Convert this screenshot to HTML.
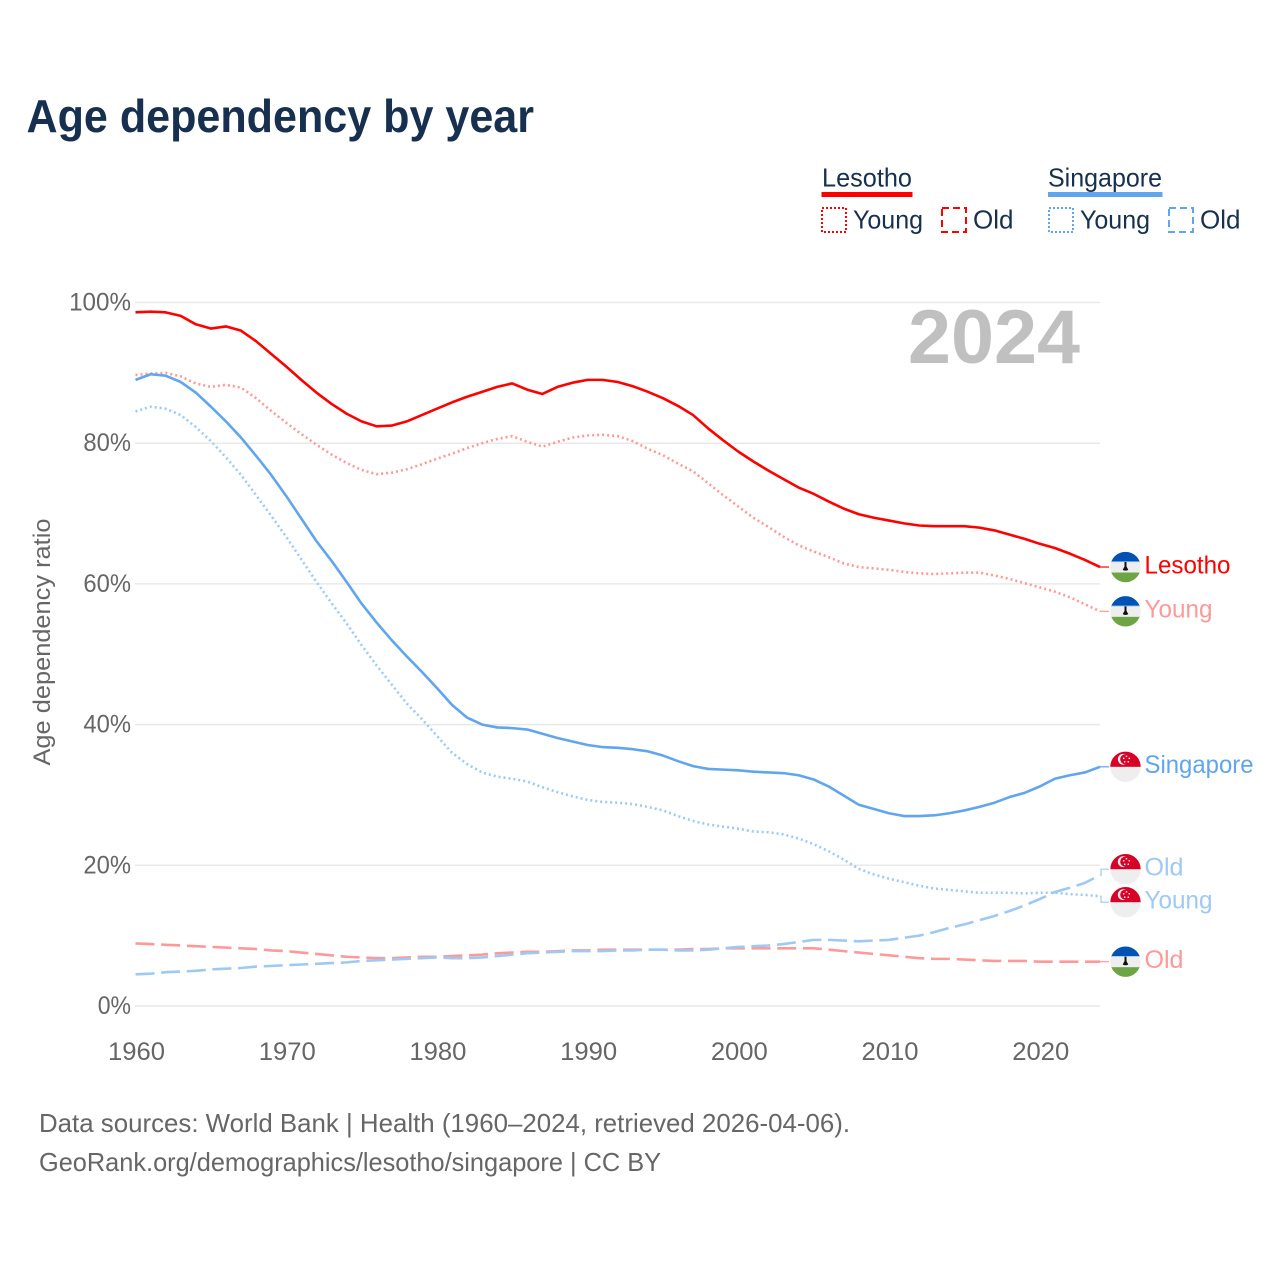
<!DOCTYPE html>
<html lang="en">
<head>
<meta charset="utf-8">
<title>Age dependency by year</title>
<style>
html,body{margin:0;padding:0;background:#fff}
svg{display:block}
text{font-family:"Liberation Sans",sans-serif}
</style>
</head>
<body>
<svg id="chart" xmlns="http://www.w3.org/2000/svg" width="1280" height="1280" viewBox="0 0 1280 1280">
  <defs>
    <clipPath id="flag-clip"><circle cx="0" cy="0" r="15.2"/></clipPath>
  </defs>
  <rect x="0" y="0" width="1280" height="1280" fill="#fff"/>
  <text x="26.500" y="132" font-size="46" font-weight="700" fill="#17304f" textLength="507.500" lengthAdjust="spacingAndGlyphs">Age dependency by year</text>

  <g font-size="26" fill="#17304f">
    <text x="822" y="186.500" textLength="90" lengthAdjust="spacingAndGlyphs">Lesotho</text>
    <rect x="821.500" y="192" width="91" height="5" fill="#ff0000"/>
    <rect x="822" y="208" width="24" height="24" fill="none" stroke="#ff0000" stroke-width="2" stroke-dasharray="2 2"/>
    <text x="853" y="228.500" textLength="70" lengthAdjust="spacingAndGlyphs">Young</text>
    <rect x="942" y="208" width="24" height="24" fill="none" stroke="#ff0000" stroke-width="2" stroke-dasharray="7 4"/>
    <text x="973" y="228.500" textLength="40.500" lengthAdjust="spacingAndGlyphs">Old</text>
    <text x="1048" y="186.500" textLength="114" lengthAdjust="spacingAndGlyphs">Singapore</text>
    <rect x="1048" y="192" width="114.500" height="5" fill="#60a5ee"/>
    <rect x="1049" y="208" width="24" height="24" fill="none" stroke="#60a5ee" stroke-width="2" stroke-dasharray="2 2"/>
    <text x="1080" y="228.500" textLength="70" lengthAdjust="spacingAndGlyphs">Young</text>
    <rect x="1169" y="208" width="24" height="24" fill="none" stroke="#60a5ee" stroke-width="2" stroke-dasharray="7 4"/>
    <text x="1200" y="228.500" textLength="40.500" lengthAdjust="spacingAndGlyphs">Old</text>
  </g>

  <g id="grid"></g>
  <g id="y-ticks"></g>
  <g id="x-ticks"></g>
  <text transform="translate(50,642) rotate(-90)" text-anchor="middle" font-size="24" fill="#666" textLength="247" lengthAdjust="spacingAndGlyphs">Age dependency ratio</text>
  <text x="1080" y="363" text-anchor="end" font-size="76" font-weight="700" fill="#c0c0c0" textLength="172" lengthAdjust="spacingAndGlyphs">2024</text>
  <g id="series"></g>
  <g id="end-labels"></g>

  <g font-size="26" fill="#666">
    <text x="39" y="1132" textLength="811" lengthAdjust="spacingAndGlyphs">Data sources: World Bank | Health (1960–2024, retrieved 2026-04-06).</text>
    <text x="39" y="1171" textLength="622" lengthAdjust="spacingAndGlyphs">GeoRank.org/demographics/lesotho/singapore | CC BY</text>
  </g>
</svg>
<script>
const startYear = 1960;
const endYear = 2024;
const xTickYears = [1960, 1970, 1980, 1990, 2000, 2010, 2020];
const yTickValues = [0, 20, 40, 60, 80, 100];

const lesothoTotal = [
  98.6,98.7,98.6,98.1,96.9,96.3,96.6,96.0,94.5,92.7,
  90.9,89.0,87.2,85.6,84.2,83.1,82.4,82.5,83.1,84.0,
  84.9,85.8,86.6,87.3,88.0,88.5,87.6,87.0,88.0,88.6,
  89.0,89.0,88.7,88.1,87.3,86.4,85.3,84.0,82.1,80.4,
  78.8,77.4,76.1,74.9,73.7,72.8,71.7,70.7,69.9,69.4,
  69.0,68.6,68.3,68.2,68.2,68.2,68.0,67.6,67.0,66.4,
  65.7,65.1,64.3,63.4,62.4
];
const lesothoYoung = [
  89.7,89.9,90.0,89.5,88.5,88.0,88.3,87.9,86.4,84.6,
  82.9,81.3,79.8,78.4,77.2,76.2,75.6,75.8,76.3,77.0,
  77.8,78.5,79.3,80.0,80.6,81.0,80.2,79.5,80.2,80.8,
  81.1,81.2,81.0,80.3,79.2,78.3,77.1,76.0,74.3,72.6,
  71.0,69.4,68.1,66.7,65.5,64.6,63.8,62.9,62.4,62.2,
  62.0,61.7,61.5,61.4,61.5,61.6,61.6,61.2,60.7,60.1,
  59.5,58.9,58.1,57.1,56.1
];
const lesothoOld = [
  8.9,8.8,8.7,8.6,8.5,8.4,8.3,8.2,8.1,7.9,
  7.8,7.6,7.4,7.2,7.0,6.9,6.8,6.8,6.9,7.0,
  7.0,7.1,7.2,7.3,7.5,7.6,7.7,7.7,7.8,7.9,
  7.9,8.0,8.0,8.0,8.0,8.0,8.0,8.1,8.1,8.2,
  8.2,8.2,8.2,8.2,8.2,8.2,8.0,7.8,7.6,7.4,
  7.2,7.0,6.8,6.7,6.7,6.6,6.5,6.4,6.4,6.4,
  6.3,6.3,6.3,6.3,6.3
];
const singaporeTotal = [
  89.0,89.8,89.6,88.7,87.2,85.2,83.1,80.8,78.2,75.5,
  72.5,69.3,66.1,63.3,60.3,57.2,54.5,52.0,49.7,47.5,
  45.2,42.8,41.0,40.0,39.6,39.5,39.3,38.7,38.1,37.6,
  37.1,36.8,36.7,36.5,36.2,35.6,34.8,34.1,33.7,33.6,
  33.5,33.3,33.2,33.1,32.8,32.2,31.2,29.9,28.6,28.0,
  27.4,27.0,27.0,27.1,27.4,27.8,28.3,28.9,29.7,30.3,
  31.2,32.3,32.8,33.2,34.0
];
const singaporeYoung = [
  84.5,85.2,84.9,84.0,82.3,80.3,78.0,75.5,72.6,69.7,
  66.7,63.5,60.3,57.3,54.4,51.3,48.4,45.7,43.0,40.8,
  38.4,36.0,34.4,33.2,32.6,32.3,31.9,31.1,30.4,29.8,
  29.3,29.0,28.9,28.7,28.3,27.8,27.0,26.3,25.8,25.5,
  25.2,24.8,24.7,24.4,23.8,23.0,22.0,20.8,19.5,18.7,
  18.1,17.6,17.1,16.7,16.5,16.3,16.1,16.1,16.1,16.0,
  16.1,16.1,15.9,15.8,15.6
];
const singaporeOld = [
  4.5,4.6,4.8,4.9,5.0,5.2,5.3,5.4,5.6,5.7,
  5.8,5.9,6.0,6.1,6.2,6.4,6.5,6.6,6.7,6.8,
  6.9,6.8,6.8,6.9,7.1,7.3,7.5,7.6,7.7,7.8,
  7.8,7.8,7.9,7.9,8.0,8.0,7.9,7.9,8.0,8.2,
  8.4,8.5,8.6,8.8,9.1,9.4,9.4,9.3,9.2,9.3,
  9.4,9.7,10.0,10.5,11.1,11.6,12.2,12.8,13.5,14.3,
  15.2,16.2,16.8,17.5,18.6
];

const NS = 'http://www.w3.org/2000/svg';
function xScale(year) { return 135.5 + (year - startYear) * (1100 - 135.5) / (endYear - startYear); }
function yScale(v) { return 1006 - v * 7.035; }
function make(tag, attrs, parent) {
  const el = document.createElementNS(NS, tag);
  for (const k in attrs) el.setAttribute(k, attrs[k]);
  parent.appendChild(el);
  return el;
}

const gridG = document.getElementById('grid');
const yTickG = document.getElementById('y-ticks');
yTickValues.forEach(function (v) {
  const line = make('line', { x1: 135, x2: 1100, y1: yScale(v), y2: yScale(v), stroke: '#e9e9e9', 'stroke-width': 1.5 }, gridG);
  
  
  const label = v + '%';
  const t = make('text', { x: 131, y: yScale(v) + 8, 'text-anchor': 'end', 'font-size': 25, fill: '#666', textLength: (label.length - 1) * 14.3 + 19, lengthAdjust: 'spacingAndGlyphs' }, yTickG);
  
  
  t.textContent = label;
});

const xTickG = document.getElementById('x-ticks');
xTickYears.forEach(function (yr) {
  const t = make('text', { x: xScale(yr) + 1, y: 1060, 'text-anchor': 'middle', 'font-size': 25, fill: '#666', textLength: 57, lengthAdjust: 'spacingAndGlyphs' }, xTickG);
  
  
  t.textContent = String(yr);
});

const seriesList = [
  { id: 'lesotho-total', label: 'Lesotho', values: lesothoTotal, color: '#ff0000', dash: '', flag: 'ls', width: 86 },
  { id: 'lesotho-young', label: 'Young', values: lesothoYoung, color: '#ff9999', dash: '2 3', flag: 'ls', width: 68 },
  { id: 'lesotho-old', label: 'Old', values: lesothoOld, color: '#ff9999', dash: '19 6.700', flag: 'ls', width: 39 },
  { id: 'singapore-total', label: 'Singapore', values: singaporeTotal, color: '#60a5ee', dash: '', flag: 'sg', width: 109 },
  { id: 'singapore-young', label: 'Young', values: singaporeYoung, color: '#9fc9f5', dash: '2 3', flag: 'sg', width: 68 },
  { id: 'singapore-old', label: 'Old', values: singaporeOld, color: '#9fc9f5', dash: '19 6.700', flag: 'sg', width: 39 }
];

const seriesG = document.getElementById('series');
seriesList.forEach(function (s) {
  const pts = s.values.map(function (v, i) { return xScale(startYear + i).toFixed(2) + ',' + yScale(v).toFixed(2); }).join(' ');
  const attrs = { points: pts, fill: 'none', stroke: s.color, 'stroke-width': 2.6, 'stroke-linejoin': 'round' };
  if (s.dash) attrs['stroke-dasharray'] = s.dash;
  const line = make('polyline', attrs, seriesG);
  
  
});

/* End labels: start at each series' last value, then push colliding neighbours apart */
const minGap = 33;
const placed = seriesList.map(function (s) {
  const y = yScale(s.values[s.values.length - 1]);
  return { s: s, endY: y, y: y };
}).sort(function (a, b) { return a.y - b.y; });
for (let pass = 0; pass < 8; pass++) {
  for (let i = 1; i < placed.length; i++) {
    const overlap = minGap - (placed[i].y - placed[i - 1].y);
    if (overlap > 0) { placed[i - 1].y -= overlap / 2; placed[i].y += overlap / 2; }
  }
}

function drawLesothoFlag(g) {
  const c = make('g', { 'clip-path': 'url(#flag-clip)' }, g);
  make('rect', { x: -16, y: -16, width: 32, height: 32, fill: '#eeeeee' }, c);
  make('rect', { x: -16, y: -16, width: 32, height: 10.500, fill: '#0052b4' }, c);
  make('rect', { x: -16, y: -5.700, width: 32, height: 0.800, fill: '#9fc3e8' }, c);
  make('rect', { x: -16, y: 5.500, width: 32, height: 11, fill: '#6da544' }, c);
  make('path', { d: 'M-1 -5 H1 V-0.500 L2.800 2.800 Q0 4.400 -2.800 2.800 L-1 -0.500 Z', fill: '#111' }, c);
}
function drawSingaporeFlag(g) {
  const c = make('g', { 'clip-path': 'url(#flag-clip)' }, g);
  make('rect', { x: -16, y: -16, width: 32, height: 32, fill: '#eeeeee' }, c);
  make('rect', { x: -16, y: -16, width: 32, height: 16, fill: '#d80027' }, c);
  make('circle', { cx: -2.300, cy: -7.500, r: 5.400, fill: '#eeeeee' }, c);
  make('circle', { cx: -0.300, cy: -7.500, r: 5, fill: '#d80027' }, c);
  [[0.5, -10.5], [3.3, -8.4], [2.3, -5], [-1.3, -5], [-2.3, -8.4]].forEach(function (p) {
    make('circle', { cx: p[0] + 0.5, cy: p[1], r: 0.850, fill: '#eeeeee' }, c);
  });
}

const labelsG = document.getElementById('end-labels');
placed.forEach(function (p) {
  const s = p.s;
  const g = make('g', {}, labelsG);
  
  
  const conn = make('polyline', {
    points: '1100,' + p.endY.toFixed(2) + ' 1101,' + p.endY.toFixed(2) + ' 1101,' + p.y.toFixed(2) + ' 1109,' + p.y.toFixed(2),
    fill: 'none', stroke: s.color, 'stroke-width': 1.2
  }, g);
  
  
  const flag = make('g', { transform: 'translate(1125.500,' + p.y.toFixed(2) + ')' }, g);
  
  
  if (s.flag === 'ls') drawLesothoFlag(flag); else drawSingaporeFlag(flag);
  const t = make('text', { x: 1144.500, y: p.y + 6.300, 'font-size': 25, fill: s.color, textLength: s.width, lengthAdjust: 'spacingAndGlyphs' }, g);
  
  
  t.textContent = s.label;
});
</script>
</body>
</html>
